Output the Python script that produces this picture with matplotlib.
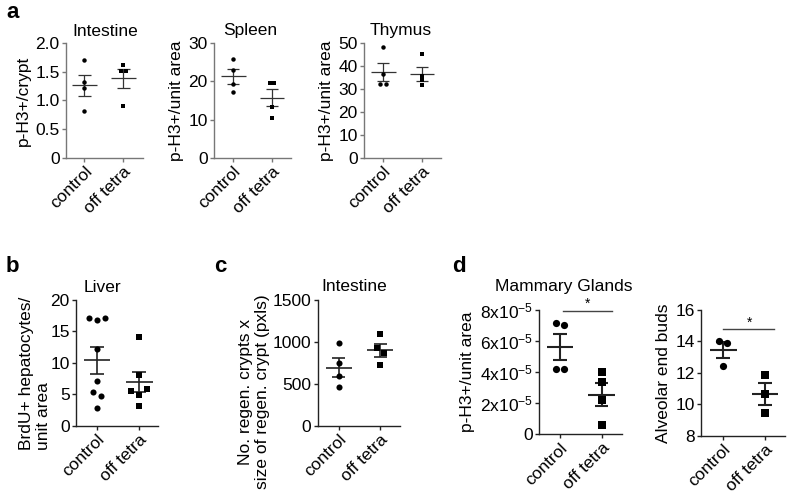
"""Dot plots with mean +/- SEM for the tetra-off proliferation panels (a-d)."""
import matplotlib

matplotlib.use("Agg")
import matplotlib.pyplot as plt  # noqa: E402
import matplotlib.transforms as mtransforms  # noqa: E402
import numpy as np  # noqa: E402

plt.rcParams["font.family"] = ["Liberation Sans", "DejaVu Sans"]
plt.rcParams["mathtext.default"] = "regular"

GROUPS = ["control", "off tetra"]

# panel a
INTESTINE_CTRL = [1.71, 1.32, 1.21, 0.81]
INTESTINE_OFF = [1.62, 1.51, 1.52, 0.905]
SPLEEN_CTRL = [25.8, 22.9, 19.4, 17.1]
SPLEEN_OFF = [19.7, 19.7, 13.2, 10.5]
THYMUS_CTRL = [48.2, 36.8, 32.4, 32.4]
THYMUS_OFF = [45.2, 35.5, 33.8, 31.6]
# panel b
LIVER_CTRL = [17.1, 16.8, 17.1, 12.2, 7.1, 5.3, 4.7, 2.8]
LIVER_OFF = [14.1, 8.1, 5.5, 4.9, 5.9, 3.1]
# panel c
REGEN_CTRL = [982, 744, 593, 457]
REGEN_OFF = [1094, 923, 871, 720]
# panel d
MAMMARY_CTRL = [7.14e-5, 7.03e-5, 4.17e-5, 4.17e-5]
MAMMARY_OFF = [3.98e-5, 3.38e-5, 2.19e-5, 0.58e-5]
BUDS_CTRL = [14.05, 13.88, 12.46]
BUDS_OFF = [11.86, 10.63, 9.46]

FIG_W, FIG_H = 787, 494
FS = 12.5

fig = plt.figure(figsize=(FIG_W / 100, FIG_H / 100), dpi=100)


def px_rect(x0, x1, y0, y1):
    # pixel box (top-left origin) -> figure fraction rect
    return [x0 / FIG_W, 1 - y1 / FIG_H, (x1 - x0) / FIG_W, (y1 - y0) / FIG_H]


def swarm_offsets(values, tol, step):
    vals = np.asarray(values, float)
    order = np.argsort(vals, kind="stable")
    offsets = np.zeros(len(vals))
    clusters = [[order[0]]]
    for i in order[1:]:
        if vals[i] - vals[clusters[-1][-1]] < tol:
            clusters[-1].append(i)
        else:
            clusters.append([i])
    for c in clusters:
        c = sorted(c)
        for k, idx in enumerate(c):
            offsets[idx] = (k - (len(c) - 1) / 2) * step
    return offsets


def dot_panel(box, ctrl, off, ylim, yticks, ylabel, xlim, ms, lw, step,
              axis_color="#222222", bar_color="#222222", tol_px=4.5,
              yticklabels=None):
    rect = px_rect(*box)
    ax = fig.add_axes(rect)
    tol = tol_px * (ylim[1] - ylim[0]) / (rect[3] * FIG_H)
    for i, (vals, marker) in enumerate(zip([ctrl, off], ["o", "s"])):
        vals = np.asarray(vals, float)
        x = i + swarm_offsets(vals, tol, step)
        ax.plot(x, vals, ls="none", marker=marker, ms=ms, color="black",
                mew=0, clip_on=False, zorder=3)
        m = vals.mean()
        sem = vals.std(ddof=1) / np.sqrt(len(vals))
        ax.hlines(m, i - 0.32, i + 0.32, color=bar_color, lw=lw, zorder=2)
        ax.hlines([m - sem, m + sem], i - 0.16, i + 0.16, color=bar_color, lw=lw, zorder=2)
        ax.vlines(i, m - sem, m + sem, color=bar_color, lw=lw, zorder=2)

    ax.set_xlim(*xlim)
    ax.set_ylim(*ylim)
    ax.set_yticks(yticks)
    if yticklabels is not None:
        ax.set_yticklabels(yticklabels)
    ax.set_xticks([0, 1])
    ax.set_xticklabels(GROUPS, rotation=45, ha="right", va="top",
                       rotation_mode="anchor")
    offset = mtransforms.ScaledTranslation(5 / 100, 0, fig.dpi_scale_trans)
    for lab in ax.get_xticklabels():
        lab.set_transform(lab.get_transform() + offset)
    for side in ("top", "right"):
        ax.spines[side].set_visible(False)
    for side in ("left", "bottom"):
        ax.spines[side].set_color(axis_color)
        ax.spines[side].set_linewidth(1.0)
    ax.tick_params(axis="both", direction="out", length=3, width=1.0,
                   color=axis_color, labelsize=FS, pad=1.5)
    ax.set_ylabel(ylabel, fontsize=FS, labelpad=3)
    return ax


def title(x_px, y_px, text):
    fig.text(x_px / FIG_W, 1 - y_px / FIG_H, text, fontsize=FS,
             ha="center", va="center")


def letter(x_px, y_px, text):
    fig.text(x_px / FIG_W, 1 - y_px / FIG_H, text, fontsize=16,
             fontweight="bold", ha="left", va="center")


def sig_bar(ax, x0, x1, y, star_x):
    ax.plot([x0, x1], [y, y], color="#444444", lw=1.0, clip_on=False)
    ax.text(star_x, y, "*", ha="center", va="bottom", fontsize=10,
            clip_on=False)


# ---- panel a ----
gray = "#777777"
dot_panel((66, 143, 43.3, 157.7), INTESTINE_CTRL, INTESTINE_OFF, (0, 2.0),
          [0, 0.5, 1.0, 1.5, 2.0], "p-H3+/crypt", (-0.47, 1.5), ms=3.2, lw=0.9,
          step=0.11, axis_color=gray, bar_color="#333333", tol_px=3.5,
          yticklabels=["0", "0.5", "1.0", "1.5", "2.0"])
dot_panel((214, 291, 43.3, 157.7), SPLEEN_CTRL, SPLEEN_OFF, (0, 30),
          [0, 10, 20, 30], "p-H3+/unit area", (-0.49, 1.49), ms=3.2, lw=0.9,
          step=0.12, axis_color=gray, bar_color="#333333", tol_px=3.5)
dot_panel((364, 441, 43.3, 157.7), THYMUS_CTRL, THYMUS_OFF, (0, 50),
          [0, 10, 20, 30, 40, 50], "p-H3+/unit area", (-0.49, 1.49), ms=3.2,
          lw=0.9, step=0.15, axis_color=gray, bar_color="#333333", tol_px=3.5)
title(105, 31, "Intestine")
title(250, 31, "Spleen")
title(401, 31, "Thymus")
letter(6, 12, "a")

# ---- panel b ----
ax_b = dot_panel((76, 158, 300, 425.7), LIVER_CTRL, LIVER_OFF, (0, 20),
                 [0, 5, 10, 15, 20], "BrdU+ hepatocytes/\nunit area",
                 (-0.5, 1.45), ms=4.4, lw=1.2, step=0.19)
ax_b.yaxis.label.set_multialignment("left")
ax_b.yaxis.set_label_coords(-0.3, 0.42)
title(102, 287, "Liver")
letter(6, 266, "b")

# ---- panel c ----
ax_c = dot_panel((317.7, 400, 300, 425.7), REGEN_CTRL, REGEN_OFF, (0, 1500),
                 [0, 500, 1000, 1500],
                 "No. regen. crypts x\nsize of regen. crypt (pxls)",
                 (-0.51, 1.48), ms=4.4, lw=1.2, step=0.17)
ax_c.yaxis.set_label_coords(-0.58, 0.27)
title(354, 286, "Intestine")
letter(214, 266, "c")

# ---- panel d ----
ax_d1 = dot_panel((539, 622, 310, 434), MAMMARY_CTRL, MAMMARY_OFF, (0, 8e-5),
                  [0, 2e-5, 4e-5, 6e-5, 8e-5], "p-H3+/unit area",
                  (-0.5, 1.49), ms=5.2, lw=1.5, step=0.18,
                  yticklabels=["0", "2x10$^{-5}$", "4x10$^{-5}$",
                               "6x10$^{-5}$", "8x10$^{-5}$"])
sig_bar(ax_d1, 0.07, 1.26, 7.95e-5, 0.67)
title(564, 287, "Mammary Glands")
letter(452, 266, "d")

ax_d2 = dot_panel((701, 785, 310, 435.7), BUDS_CTRL, BUDS_OFF, (8, 16),
                  [8, 10, 12, 14, 16], "Alveolar end buds",
                  (-0.53, 1.48), ms=5.2, lw=1.5, step=0.19)
sig_bar(ax_d2, 0.0, 1.22, 14.77, 0.62)

fig.savefig("out.png", dpi=100)
